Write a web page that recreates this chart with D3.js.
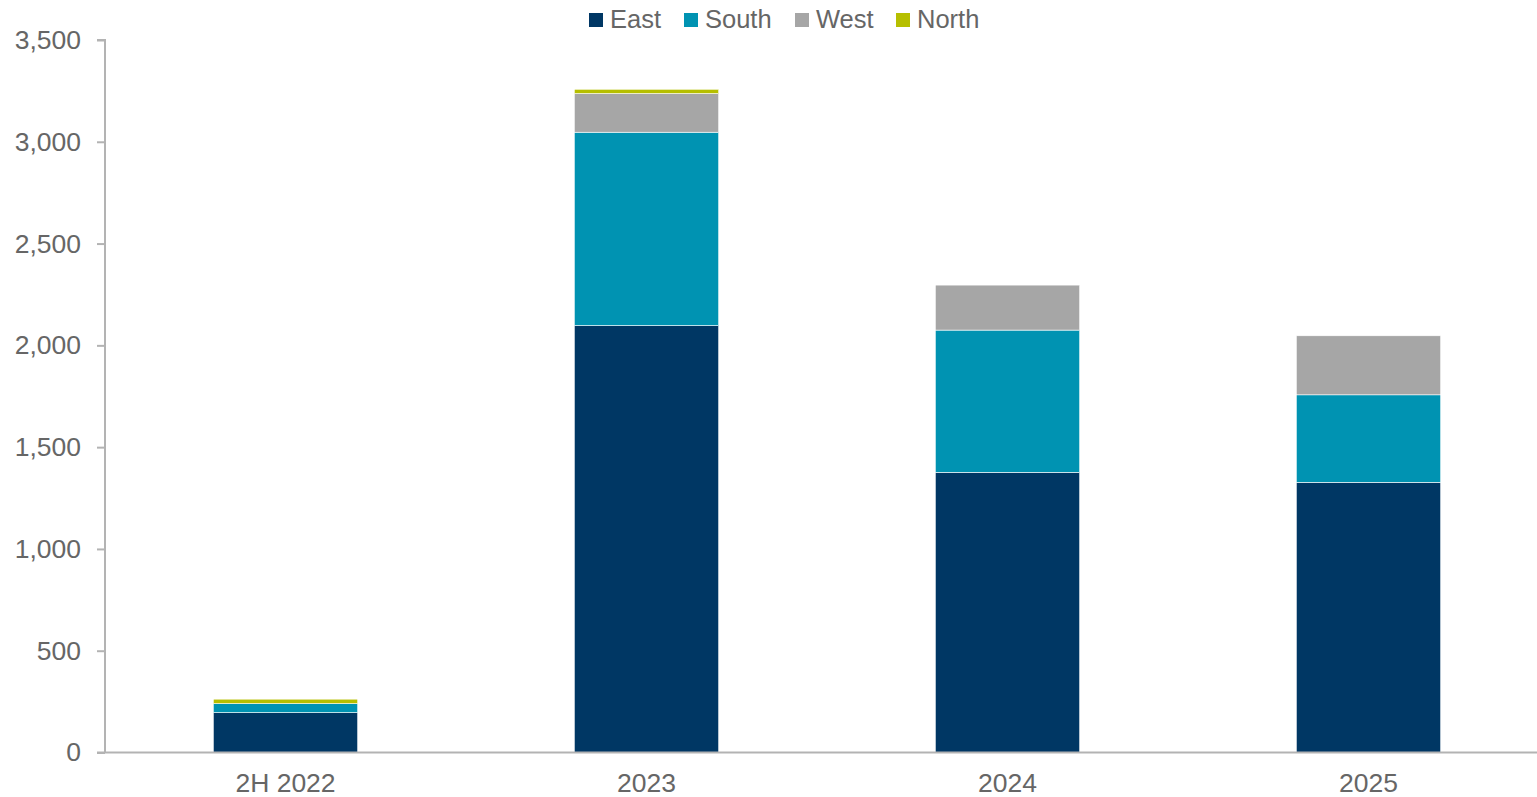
<!DOCTYPE html>
<html>
<head>
<meta charset="utf-8">
<script src="https://cdn.jsdelivr.net/npm/d3@7"></script>
<style>
  body { margin: 0; background: #fff; }
  svg text { font-family: "Liberation Sans", Arial, sans-serif; fill: #666; }
</style>
</head>
<body>
<svg id="chart" width="1537" height="797"></svg>
<script>
// data
var categories = ["2H 2022", "2023", "2024", "2025"];
var seriesNames = ["East", "South", "West", "North"];
var east = [196, 2097, 1376, 1327];
var south = [44, 950, 699, 430];
var west = [0, 190, 221, 290];
var north = [22, 21, 0, 0];
var yTicks = [0, 500, 1000, 1500, 2000, 2500, 3000, 3500];
var colors = ["#003764", "#0093b2", "#a6a6a6", "#b6bf00"];

var svg = d3.select("#chart");
var x0 = 105, yTop = 40, yBase = 752.5;

var rows = categories.map(function(c, i) {
  return { cat: c, East: east[i], South: south[i], West: west[i], North: north[i] };
});

var x = d3.scaleBand()
  .domain(categories)
  .range([x0, x0 + 4 * 361])
  .paddingInner(0.6)
  .paddingOuter(0.3);

var y = d3.scaleLinear().domain([0, 3500]).range([yBase, yTop]);

var color = d3.scaleOrdinal().domain(seriesNames).range(colors);

var stacked = d3.stack().keys(seriesNames)(rows);

// bars
svg.append("g")
  .selectAll("g")
  .data(stacked)
  .enter()
  .append("g")
  .attr("fill", function(d) { return color(d.key); })
  .selectAll("rect")
  .data(function(d) { return d; })
  .enter()
  .append("rect")
  .attr("x", function(d) { return x(d.data.cat); })
  .attr("width", x.bandwidth())
  .attr("y", function(d) { return y(d[1]); })
  .attr("height", function(d) { return y(d[0]) - y(d[1]); })
  .attr("stroke", "#fff")
  .attr("stroke-width", function(d) { return d[1] > d[0] ? 0.6 : 0; });

// y axis
var yAxis = svg.append("g")
  .attr("transform", "translate(" + x0 + ",0)")
  .call(d3.axisLeft(y).tickValues(yTicks).tickSize(8).tickPadding(16)
    .tickFormat(d3.format(",")));
yAxis.selectAll("line, path").attr("stroke", "#b3b3b3").attr("stroke-width", 2);
yAxis.select(".domain").attr("d", "M-8," + yTop + "H0V" + yBase);
yAxis.selectAll("text")
  .attr("font-size", 26.5)
  .attr("fill", "#666")
  .style("font-family", "'Liberation Sans', Arial, sans-serif");

// x axis
var xAxis = svg.append("g")
  .attr("transform", "translate(0," + yBase + ")")
  .call(d3.axisBottom(x).tickSize(0).tickPadding(21));
xAxis.select(".domain").attr("d", "M" + (x0 - 8) + ",0H1537")
  .attr("stroke", "#b3b3b3").attr("stroke-width", 2);
xAxis.selectAll("text")
  .attr("font-size", 26.5)
  .attr("fill", "#666")
  .attr("dy", "0.71em")
  .style("font-family", "'Liberation Sans', Arial, sans-serif");

// legend
var legendX = [589, 684, 795, 896];
var legend = svg.append("g")
  .selectAll("g")
  .data(seriesNames)
  .enter()
  .append("g")
  .attr("transform", function(d, i) { return "translate(" + legendX[i] + ",13)"; });
legend.append("rect")
  .attr("width", 14)
  .attr("height", 14)
  .attr("fill", function(d) { return color(d); });
legend.append("text")
  .attr("x", 21)
  .attr("y", 14.5)
  .attr("font-size", 25.5)
  .text(function(d) { return d; });
</script>
</body>
</html>
